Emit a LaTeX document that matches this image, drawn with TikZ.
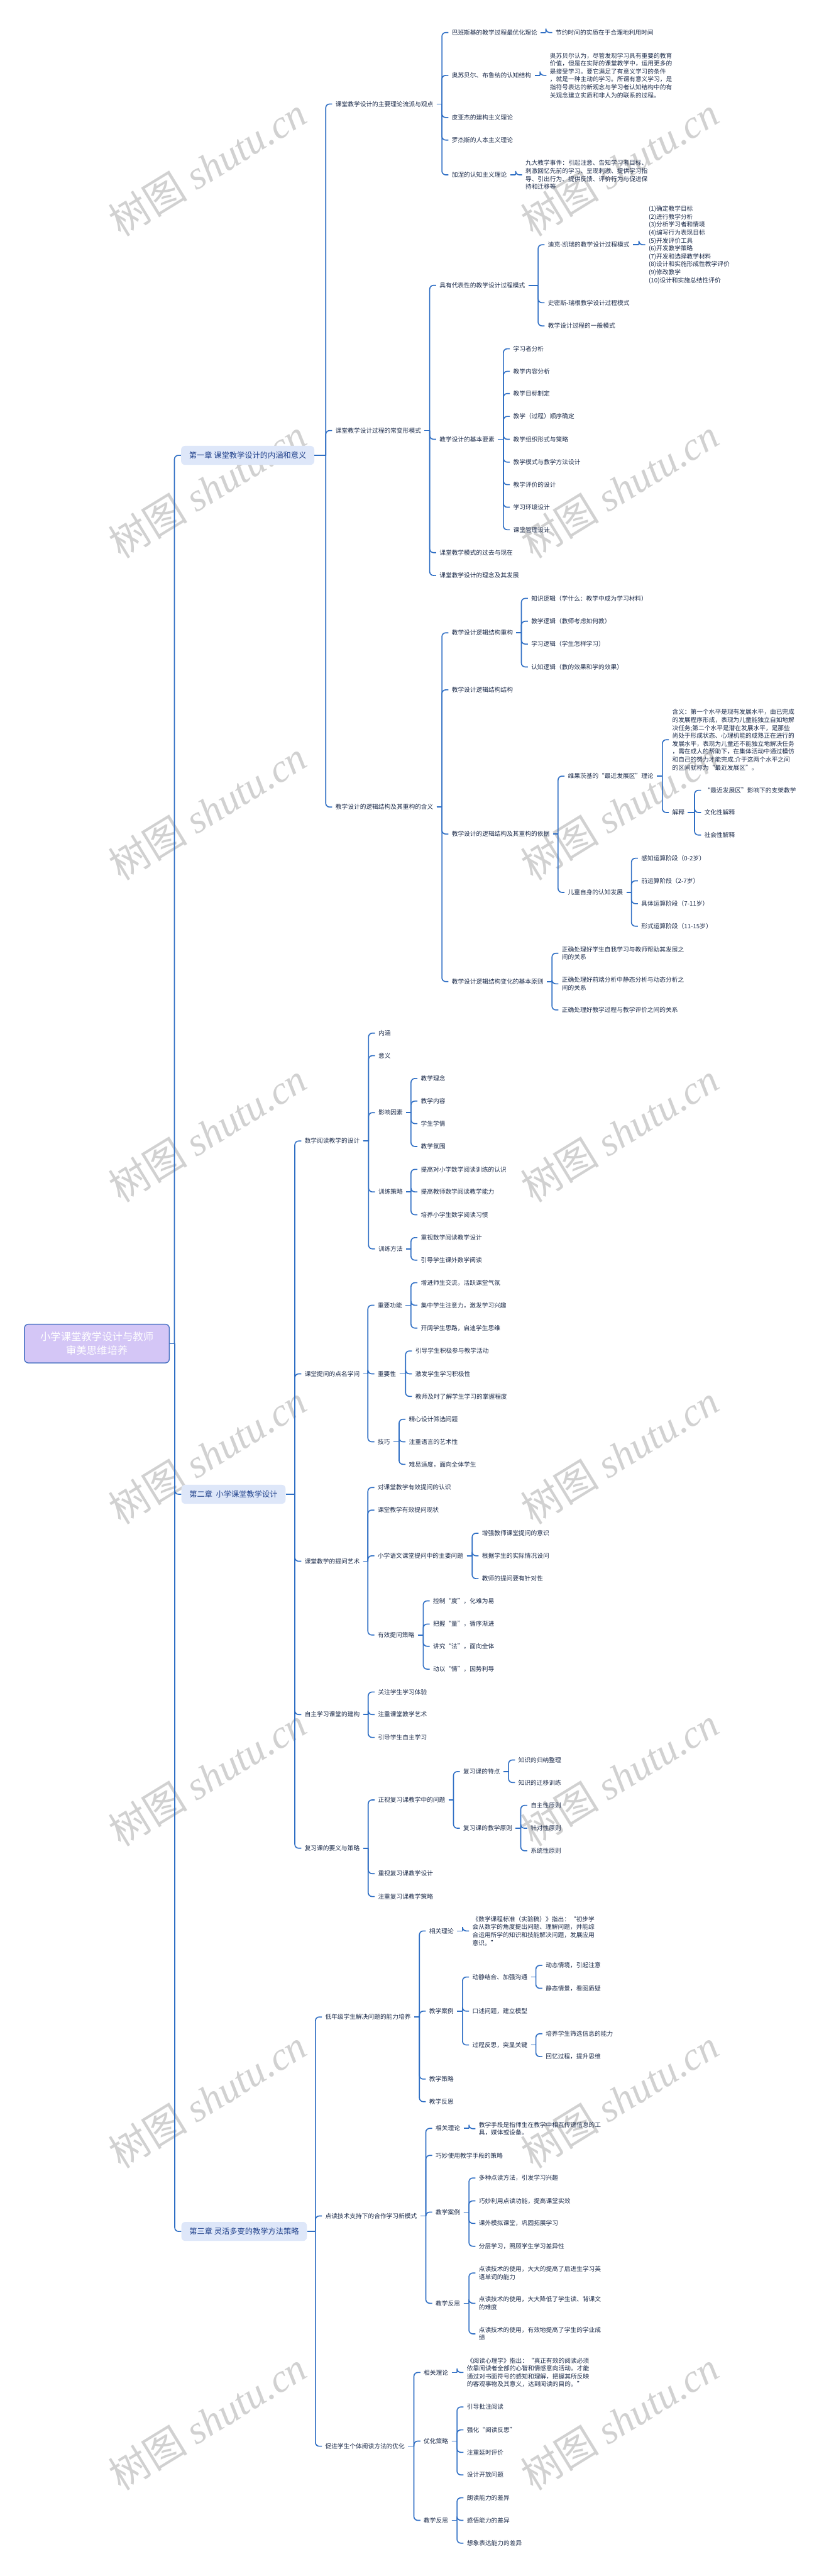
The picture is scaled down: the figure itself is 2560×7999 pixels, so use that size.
\documentclass[tikz,border=0pt]{standalone}
\usepackage{fontspec}
\setmainfont{Noto Sans CJK SC}
\newfontfamily\marklatin{Liberation Serif}

\definecolor{linkblue}{HTML}{2E6EC4}
\definecolor{inkblue}{HTML}{1C2B4A}
\definecolor{chapfill}{HTML}{DEE7F9}
\definecolor{chapink}{HTML}{1E3F8A}
\definecolor{rootfill}{HTML}{D4C6F6}
\definecolor{rootline}{HTML}{4A74C4}

\tikzset{
  topic/.style={anchor=west, inner xsep=1mm, inner ysep=0.4mm, align=left, text=inkblue, font=\fontsize{5.4pt}{7pt}\selectfont},
  chapter/.style={anchor=west, fill=chapfill, rounded corners=1.2mm, inner xsep=2.5mm, minimum height=5.9mm, text=chapink, font=\fontsize{6.8pt}{8pt}\selectfont},
  rootbox/.style={fill=rootfill, draw=rootline, line width=0.8pt, rounded corners=1.2mm, minimum width=45mm, minimum height=12mm, align=center, text=white, font=\fontsize{9.1pt}{12.2pt}\selectfont},
  branch/.style={draw=linkblue, line width=0.9pt},
  wmark/.style={text=black!18, rotate=31.5, font=\fontsize{35pt}{35pt}\selectfont}
}

% parent -> child: stub, bracket, rounded end
\newcommand\branchto[2]{%
  \draw[branch] (#1.east) -- ([xshift=-2mm]#2.west |- #1.east);
  \draw[branch,rounded corners=1.2mm] ([xshift=-2mm]#2.west |- #1.east) |- (#2.west);}

\begin{document}
\begin{tikzpicture}[x=0.1mm,y=-0.1mm]
\useasboundingbox[fill=white] (0,0) rectangle (2560,7999);

% watermark
\foreach \wy in {517,1517,...,7517} {
  \node[wmark] at (645,\wy) {树图 {\marklatin\itshape shutu.cn}};
  \node[wmark] at (1925,\wy) {树图 {\marklatin\itshape shutu.cn}};
}

% root and chapters
\node[rootbox] (root) at (301,4172) {小学课堂教学设计与教师\\审美思维培养};
\node[chapter] (chA) at (562,1414) {第一章 课堂教学设计的内涵和意义};
\node[chapter] (chB) at (563,4640) {第二章\ \ 小学课堂教学设计};
\node[chapter] (chC) at (563,6929) {第三章 灵活多变的教学方法策略};
\foreach \c in {chA,chB,chC} {\branchto{root}{\c}}

% chapter 1
\node[topic] (a1) at (1032,323) {课堂教学设计的主要理论流派与观点};
\node[topic] (a2) at (1032,1337) {课堂教学设计过程的常变形模式};
\node[topic] (a3) at (1032,2506) {教学设计的逻辑结构及其重构的含义};
\foreach \c in {a1,a2,a3} {\branchto{chA}{\c}}

\node[topic] (a1-1) at (1393,101) {巴班斯基的教学过程最优化理论};
\node[topic] (a1-2) at (1393,234) {奥苏贝尔、布鲁纳的认知结构};
\node[topic] (a1-3) at (1393,365) {皮亚杰的建构主义理论};
\node[topic] (a1-4) at (1393,435) {罗杰斯的人本主义理论};
\node[topic] (a1-5) at (1393,543) {加涅的认知主义理论};
\foreach \c in {a1-1,a1-2,a1-3,a1-4,a1-5} {\branchto{a1}{\c}}
\node[topic] (a1-1-1) at (1716,101) {节约时间的实质在于合理地利用时间};
\node[topic] (a1-2-1) at (1698,234) {奥苏贝尔认为，尽管发现学习具有重要的教育\\价值，但是在实际的课堂教学中，运用更多的\\是接受学习。要它满足了有意义学习的条件\\，就是一种主动的学习。所谓有意义学习，是\\指符号表达的新观念与学习者认知结构中的有\\关观念建立实质和非人为的联系的过程。};
\node[topic] (a1-5-1) at (1622,543) {九大教学事件：引起注意、告知学习者目标、\\刺激回忆先前的学习、呈现刺激、提供学习指\\导、引出行为、提供反馈、评价行为与促进保\\持和迁移等};
\branchto{a1-1}{a1-1-1}
\branchto{a1-2}{a1-2-1}
\branchto{a1-5}{a1-5-1}

\node[topic] (a2-1) at (1355,886) {具有代表性的教学设计过程模式};
\node[topic] (a2-2) at (1355,1364) {教学设计的基本要素};
\node[topic] (a2-3) at (1355,1716) {课堂教学模式的过去与现在};
\node[topic] (a2-4) at (1355,1787) {课堂教学设计的理念及其发展};
\foreach \c in {a2-1,a2-2,a2-3,a2-4} {\branchto{a2}{\c}}
\node[topic] (a2-1-1) at (1692,760) {迪克-凯瑞的教学设计过程模式};
\node[topic] (a2-1-2) at (1692,940) {史密斯-瑞根教学设计过程模式};
\node[topic] (a2-1-3) at (1692,1012) {教学设计过程的一般模式};
\foreach \c in {a2-1-1,a2-1-2,a2-1-3} {\branchto{a2-1}{\c}}
\node[topic] (a2-1-1-1) at (2005,760) {(1)确定教学目标\\(2)进行教学分析\\(3)分析学习者和情境\\(4)编写行为表现目标\\(5)开发评价工具\\(6)开发教学策略\\(7)开发和选择教学材料\\(8)设计和实施形成性教学评价\\(9)修改教学\\(10)设计和实施总结性评价};
\branchto{a2-1-1}{a2-1-1-1}
\node[topic] (a2-2-1) at (1584,1083) {学习者分析};
\node[topic] (a2-2-2) at (1584,1153) {教学内容分析};
\node[topic] (a2-2-3) at (1584,1222) {教学目标制定};
\node[topic] (a2-2-4) at (1584,1293) {教学（过程）顺序确定};
\node[topic] (a2-2-5) at (1584,1364) {教学组织形式与策略};
\node[topic] (a2-2-6) at (1584,1435) {教学模式与教学方法设计};
\node[topic] (a2-2-7) at (1584,1505) {教学评价的设计};
\node[topic] (a2-2-8) at (1584,1575) {学习环境设计};
\node[topic] (a2-2-9) at (1584,1645) {课堂管理设计};
\foreach \c in {1,...,9} {\branchto{a2-2}{a2-2-\c}}

\node[topic] (a3-1) at (1393,1965) {教学设计逻辑结构重构};
\node[topic] (a3-2) at (1393,2142) {教学设计逻辑结构结构};
\node[topic] (a3-3) at (1393,2590) {教学设计的逻辑结构及其重构的依据};
\node[topic] (a3-4) at (1393,3048) {教学设计逻辑结构变化的基本原则};
\foreach \c in {a3-1,a3-2,a3-3,a3-4} {\branchto{a3}{\c}}
\node[topic] (a3-1-1) at (1640,1858) {知识逻辑（学什么：教学中成为学习材料）};
\node[topic] (a3-1-2) at (1640,1929) {教学逻辑（教师考虑如何教）};
\node[topic] (a3-1-3) at (1640,2000) {学习逻辑（学生怎样学习）};
\node[topic] (a3-1-4) at (1640,2071) {认知逻辑（教的效果和学的效果）};
\foreach \c in {1,...,4} {\branchto{a3-1}{a3-1-\c}}
\node[topic] (a3-3-1) at (1754,2410) {维果茨基的“最近发展区”理论};
\node[topic] (a3-3-2) at (1754,2771) {儿童自身的认知发展};
\foreach \c in {a3-3-1,a3-3-2} {\branchto{a3-3}{\c}}
\node[topic] (vyg-1) at (2078,2297) {含义：第一个水平是现有发展水平，由已完成\\的发展程序形成，表现为儿童能独立自如地解\\决任务;第二个水平是潜在发展水平，是那些\\尚处于形成状态、心理机能的成熟正在进行的\\发展水平，表现为儿童还不能独立地解决任务\\，需在成人的帮助下，在集体活动中通过模仿\\和自己的努力才能完成.介于这两个水平之间\\的区间就称为“最近发展区”。};
\node[topic] (vyg-2) at (2078,2523) {解释};
\foreach \c in {vyg-1,vyg-2} {\branchto{a3-3-1}{\c}}
\node[topic] (vyg-2-1) at (2178,2454) {“最近发展区”影响下的支架教学};
\node[topic] (vyg-2-2) at (2178,2523) {文化性解释};
\node[topic] (vyg-2-3) at (2178,2593) {社会性解释};
\foreach \c in {1,2,3} {\branchto{vyg-2}{vyg-2-\c}}
\node[topic] (kid-1) at (1982,2665) {感知运算阶段（0-2岁）};
\node[topic] (kid-2) at (1982,2735) {前运算阶段（2-7岁）};
\node[topic] (kid-3) at (1982,2806) {具体运算阶段（7-11岁）};
\node[topic] (kid-4) at (1982,2876) {形式运算阶段（11-15岁）};
\foreach \c in {1,...,4} {\branchto{a3-3-2}{kid-\c}}
\node[topic] (a3-4-1) at (1735,2960) {正确处理好学生自我学习与教师帮助其发展之\\间的关系};
\node[topic] (a3-4-2) at (1735,3055) {正确处理好前端分析中静态分析与动态分析之\\间的关系};
\node[topic] (a3-4-3) at (1735,3136) {正确处理好教学过程与教学评价之间的关系};
\foreach \c in {1,2,3} {\branchto{a3-4}{a3-4-\c}}

% chapter 2
\node[topic] (b1) at (936,3543) {数学阅读教学的设计};
\node[topic] (b2) at (936,4266) {课堂提问的点名学问};
\node[topic] (b3) at (936,4848) {课堂教学的提问艺术};
\node[topic] (b4) at (936,5324) {自主学习课堂的建构};
\node[topic] (b5) at (936,5739) {复习课的要义与策略};
\foreach \c in {b1,b2,b3,b4,b5} {\branchto{chB}{\c}}

\node[topic] (b1-1) at (1165,3208) {内涵};
\node[topic] (b1-2) at (1165,3278) {意义};
\node[topic] (b1-3) at (1165,3455) {影响因素};
\node[topic] (b1-4) at (1165,3701) {训练策略};
\node[topic] (b1-5) at (1165,3878) {训练方法};
\foreach \c in {1,...,5} {\branchto{b1}{b1-\c}}
\node[topic] (b1-3-1) at (1297,3349) {教学理念};
\node[topic] (b1-3-2) at (1297,3419) {教学内容};
\node[topic] (b1-3-3) at (1297,3489) {学生学情};
\node[topic] (b1-3-4) at (1297,3560) {教学氛围};
\foreach \c in {1,...,4} {\branchto{b1-3}{b1-3-\c}}
\node[topic] (b1-4-1) at (1297,3631) {提高对小学数学阅读训练的认识};
\node[topic] (b1-4-2) at (1297,3701) {提高教师数学阅读教学能力};
\node[topic] (b1-4-3) at (1297,3772) {培养小学生数学阅读习惯};
\foreach \c in {1,2,3} {\branchto{b1-4}{b1-4-\c}}
\node[topic] (b1-5-1) at (1297,3843) {重视数学阅读教学设计};
\node[topic] (b1-5-2) at (1297,3913) {引导学生课外数学阅读};
\foreach \c in {1,2} {\branchto{b1-5}{b1-5-\c}}

\node[topic] (b2-1) at (1163,4053) {重要功能};
\node[topic] (b2-2) at (1163,4266) {重要性};
\node[topic] (b2-3) at (1163,4477) {技巧};
\foreach \c in {1,2,3} {\branchto{b2}{b2-\c}}
\node[topic] (b2-1-1) at (1297,3983) {增进师生交流，活跃课堂气氛};
\node[topic] (b2-1-2) at (1297,4053) {集中学生注意力，激发学习兴趣};
\node[topic] (b2-1-3) at (1297,4124) {开阔学生思路，启迪学生思维};
\foreach \c in {1,2,3} {\branchto{b2-1}{b2-1-\c}}
\node[topic] (b2-2-1) at (1280,4195) {引导学生积极参与教学活动};
\node[topic] (b2-2-2) at (1280,4266) {激发学生学习积极性};
\node[topic] (b2-2-3) at (1280,4336) {教师及时了解学生学习的掌握程度};
\foreach \c in {1,2,3} {\branchto{b2-2}{b2-2-\c}}
\node[topic] (b2-3-1) at (1260,4407) {精心设计筛选问题};
\node[topic] (b2-3-2) at (1260,4477) {注重语言的艺术性};
\node[topic] (b2-3-3) at (1260,4547) {难易适度，面向全体学生};
\foreach \c in {1,2,3} {\branchto{b2-3}{b2-3-\c}}

\node[topic] (b3-1) at (1163,4619) {对课堂教学有效提问的认识};
\node[topic] (b3-2) at (1163,4689) {课堂教学有效提问现状};
\node[topic] (b3-3) at (1163,4831) {小学语文课堂提问中的主要问题};
\node[topic] (b3-4) at (1163,5077) {有效提问策略};
\foreach \c in {1,...,4} {\branchto{b3}{b3-\c}}
\node[topic] (b3-3-1) at (1487,4761) {增强教师课堂提问的意识};
\node[topic] (b3-3-2) at (1487,4831) {根据学生的实际情况设问};
\node[topic] (b3-3-3) at (1487,4902) {教师的提问要有针对性};
\foreach \c in {1,2,3} {\branchto{b3-3}{b3-3-\c}}
\node[topic] (b3-4-1) at (1335,4971) {控制“度”，化难为易};
\node[topic] (b3-4-2) at (1335,5043) {把握“量”，循序渐进};
\node[topic] (b3-4-3) at (1335,5112) {讲究“法”，面向全体};
\node[topic] (b3-4-4) at (1335,5183) {动以“情”，因势利导};
\foreach \c in {1,...,4} {\branchto{b3-4}{b3-4-\c}}

\node[topic] (b4-1) at (1164,5254) {关注学生学习体验};
\node[topic] (b4-2) at (1164,5324) {注重课堂教学艺术};
\node[topic] (b4-3) at (1164,5395) {引导学生自主学习};
\foreach \c in {1,2,3} {\branchto{b4}{b4-\c}}

\node[topic] (b5-1) at (1164,5589) {正视复习课教学中的问题};
\node[topic] (b5-2) at (1164,5818) {重视复习课教学设计};
\node[topic] (b5-3) at (1164,5889) {注重复习课教学策略};
\foreach \c in {1,2,3} {\branchto{b5}{b5-\c}}
\node[topic] (b5-1-1) at (1429,5501) {复习课的特点};
\node[topic] (b5-1-2) at (1429,5677) {复习课的教学原则};
\foreach \c in {1,2} {\branchto{b5-1}{b5-1-\c}}
\node[topic] (rev-1) at (1600,5465) {知识的归纳整理};
\node[topic] (rev-2) at (1600,5535) {知识的迁移训练};
\foreach \c in {1,2} {\branchto{b5-1-1}{rev-\c}}
\node[topic] (rule-1) at (1638,5606) {自主性原则};
\node[topic] (rule-2) at (1638,5677) {针对性原则};
\node[topic] (rule-3) at (1638,5747) {系统性原则};
\foreach \c in {1,2,3} {\branchto{b5-1-2}{rule-\c}}

% chapter 3
\node[topic] (c1) at (1000,6263) {低年级学生解决问题的能力培养};
\node[topic] (c2) at (1000,6881) {点读技术支持下的合作学习新模式};
\node[topic] (c3) at (1000,7596) {促进学生个体阅读方法的优化};
\foreach \c in {c1,c2,c3} {\branchto{chC}{\c}}

\node[topic] (c1-1) at (1323,5996) {相关理论};
\node[topic] (c1-2) at (1323,6245) {教学案例};
\node[topic] (c1-3) at (1323,6456) {教学策略};
\node[topic] (c1-4) at (1323,6526) {教学反思};
\foreach \c in {1,...,4} {\branchto{c1}{c1-\c}}
\node[topic] (c1-1-1) at (1457,5996) {《数学课程标准（实验稿）》指出：“初步学\\会从数学的角度提出问题、理解问题，并能综\\合运用所学的知识和技能解决问题，发展应用\\意识。”};
\branchto{c1-1}{c1-1-1}
\node[topic] (c1-2-1) at (1457,6139) {动静结合、加强沟通};
\node[topic] (c1-2-2) at (1457,6245) {口述问题，建立模型};
\node[topic] (c1-2-3) at (1457,6350) {过程反思，突显关键};
\foreach \c in {1,2,3} {\branchto{c1-2}{c1-2-\c}}
\node[topic] (case-1) at (1685,6103) {动态情境，引起注意};
\node[topic] (case-2) at (1685,6174) {静态情景，看图质疑};
\foreach \c in {1,2} {\branchto{c1-2-1}{case-\c}}
\node[topic] (case-3) at (1685,6315) {培养学生筛选信息的能力};
\node[topic] (case-4) at (1685,6386) {回忆过程，提升思维};
\foreach \c in {3,4} {\branchto{c1-2-3}{case-\c}}

\node[topic] (c2-1) at (1343,6609) {相关理论};
\node[topic] (c2-2) at (1343,6693) {巧妙使用教学手段的策略};
\node[topic] (c2-3) at (1343,6869) {教学案例};
\node[topic] (c2-4) at (1343,7152) {教学反思};
\foreach \c in {1,...,4} {\branchto{c2}{c2-\c}}
\node[topic] (c2-1-1) at (1477,6610) {教学手段是指师生在教学中相互传递信息的工\\具，媒体或设备。};
\branchto{c2-1}{c2-1-1}
\node[topic] (c2-3-1) at (1477,6763) {多种点读方法，引发学习兴趣};
\node[topic] (c2-3-2) at (1477,6834) {巧妙利用点读功能，提高课堂实效};
\node[topic] (c2-3-3) at (1477,6904) {课外模拟课堂，巩固拓展学习};
\node[topic] (c2-3-4) at (1477,6975) {分层学习，照顾学生学习差异性};
\foreach \c in {1,...,4} {\branchto{c2-3}{c2-3-\c}}
\node[topic] (c2-4-1) at (1477,7058) {点读技术的使用，大大的提高了后进生学习英\\语单词的能力};
\node[topic] (c2-4-2) at (1477,7152) {点读技术的使用，大大降低了学生读、背课文\\的难度};
\node[topic] (c2-4-3) at (1477,7247) {点读技术的使用，有效地提高了学生的学业成\\绩};
\foreach \c in {1,2,3} {\branchto{c2-4}{c2-4-\c}}

\node[topic] (c3-1) at (1306,7367) {相关理论};
\node[topic] (c3-2) at (1306,7580) {优化策略};
\node[topic] (c3-3) at (1306,7826) {教学反思};
\foreach \c in {1,2,3} {\branchto{c3}{c3-\c}}
\node[topic] (c3-1-1) at (1440,7367) {《阅读心理学》指出：“真正有效的阅读必须\\依靠阅读者全部的心智和情感意向活动。才能\\通过对书面符号的感知和理解，把握其所反映\\的客观事物及其意义，达到阅读的目的。”};
\branchto{c3-1}{c3-1-1}
\node[topic] (c3-2-1) at (1440,7474) {引导批注阅读};
\node[topic] (c3-2-2) at (1440,7545) {强化“阅读反思”};
\node[topic] (c3-2-3) at (1440,7615) {注重延时评价};
\node[topic] (c3-2-4) at (1440,7685) {设计开放问题};
\foreach \c in {1,...,4} {\branchto{c3-2}{c3-2-\c}}
\node[topic] (c3-3-1) at (1440,7756) {朗读能力的差异};
\node[topic] (c3-3-2) at (1440,7826) {感悟能力的差异};
\node[topic] (c3-3-3) at (1440,7897) {想象表达能力的差异};
\foreach \c in {1,2,3} {\branchto{c3-3}{c3-3-\c}}
\end{tikzpicture}
\end{document}
